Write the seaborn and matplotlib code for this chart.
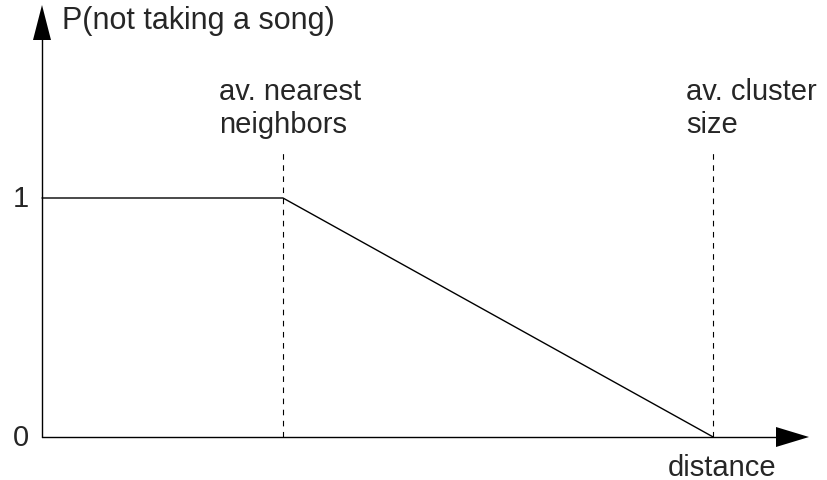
import matplotlib
matplotlib.use("Agg")
import matplotlib.pyplot as plt
import seaborn as sns
from matplotlib.patches import Polygon

# Piecewise probability of not taking a song as a function of distance
# (distance measured in units of the average nearest-neighbour distance)
nearest_dist = 1.0
cluster_dist = 2.785
distance = [0.0, nearest_dist, cluster_dist]
p_not_taking = [1.0, 1.0, 0.0]
y_tick_values = [0, 1]
y_tick_labels = ["0", "1"]

sns.set_style("white")
plt.rcParams["font.family"] = ["Liberation Sans", "DejaVu Sans"]

W, H = 827, 481
fig = plt.figure(figsize=(W / 100, H / 100), dpi=100)
ax = fig.add_axes([0, 0, 1, 1])

# scale: pixels per data unit and origin position
sx, sy = 241.0, 239.0
ox, oy = 42.0, 438.0


def dx(px):
    return (px - ox) / sx


def dy(py):
    return (oy - py) / sy


ax.set_xlim(dx(0), dx(W))
ax.set_ylim(dy(H), dy(0))
ax.axis("off")

# axes with arrow heads
ax.plot([0, 0], [0, dy(40)], color="black", lw=1.0)
ax.plot([0, dx(777)], [0, 0], color="black", lw=1.0)
ax.add_patch(Polygon([(dx(33), dy(41)), (dx(51), dy(41)), (dx(42), dy(6))],
                     closed=True, color="black", lw=0))
ax.add_patch(Polygon([(dx(776), dy(428)), (dx(776), dy(448)), (dx(809), dy(438))],
                     closed=True, color="black", lw=0))

# reference distances
for xv in (nearest_dist, cluster_dist):
    ax.plot([xv, xv], [0, dy(150)], color="black", lw=0.8,
            linestyle=(0, (5, 5)))

# probability curve
sns.lineplot(x=distance, y=p_not_taking, ax=ax, color="black", lw=1.0,
             sort=False, estimator=None)

fs = 21
for v, lab in zip(y_tick_values, y_tick_labels):
    ax.text(dx(29), v, lab, fontsize=fs, ha="right", va="center")

ax.text(dx(62), dy(29), "P(not taking a song)", fontsize=22, ha="left",
        va="baseline")
ax.text(dx(668), dy(476), "distance", fontsize=fs, ha="left", va="baseline")

ax.text(dx(219), dy(100), "av. nearest", fontsize=fs, ha="left", va="baseline")
ax.text(dx(219), dy(133), "neighbors", fontsize=fs, ha="left", va="baseline")
ax.text(dx(686), dy(100), "av. cluster", fontsize=fs, ha="left", va="baseline")
ax.text(dx(686), dy(133), "size", fontsize=fs, ha="left", va="baseline")

fig.savefig("out.png", dpi=100)
